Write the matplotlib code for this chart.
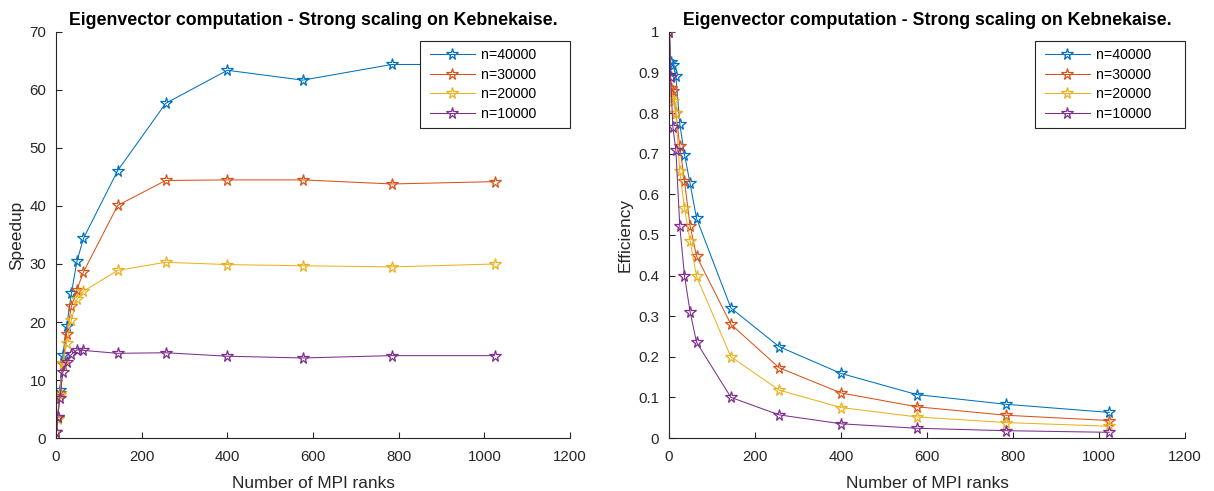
import matplotlib
matplotlib.use("Agg")
import matplotlib.pyplot as plt
from matplotlib.lines import Line2D
from matplotlib.legend_handler import HandlerLine2D

plt.rcParams['font.family'] = ['Liberation Sans', 'DejaVu Sans']

ranks = [1, 4, 9, 16, 25, 36, 49, 64, 144, 256, 400, 576, 784, 1024]
labels = ["n=40000", "n=30000", "n=20000", "n=10000"]
colors = ["#0072BD", "#D95319", "#EDB120", "#7E2F8E"]

speedup_40000 = [1, 3.7, 8.3, 14.3, 19.3, 25.0, 30.5, 34.4, 46.1, 57.7, 63.4, 61.7, 64.4, 64.4]
speedup_30000 = [1, 3.45, 7.7, 12.8, 18.0, 22.7, 25.6, 28.6, 40.1, 44.4, 44.5, 44.5, 43.8, 44.2]
speedup_20000 = [1, 3.35, 7.5, 12.9, 16.4, 20.4, 23.9, 25.3, 28.9, 30.3, 29.9, 29.7, 29.5, 30.0]
speedup_10000 = [1, 3.55, 6.9, 11.3, 13.1, 14.4, 15.2, 15.1, 14.6, 14.7, 14.1, 13.8, 14.2, 14.2]

eff_40000 = [1, 0.925, 0.919, 0.892, 0.774, 0.698, 0.627, 0.541, 0.320, 0.225, 0.159, 0.107, 0.083, 0.063]
eff_30000 = [1, 0.861, 0.855, 0.800, 0.720, 0.632, 0.523, 0.448, 0.280, 0.173, 0.111, 0.077, 0.056, 0.043]
eff_20000 = [1, 0.838, 0.830, 0.800, 0.657, 0.566, 0.485, 0.398, 0.200, 0.118, 0.075, 0.052, 0.038, 0.029]
eff_10000 = [1, 0.888, 0.766, 0.709, 0.523, 0.400, 0.311, 0.236, 0.100, 0.057, 0.035, 0.024, 0.018, 0.014]

speedups = [speedup_40000, speedup_30000, speedup_20000, speedup_10000]
effs = [eff_40000, eff_30000, eff_20000, eff_10000]

W, H = 1214, 491
fig = plt.figure(figsize=(W / 100, H / 100), dpi=100)

def axes_px(x0, y0, x1, y1):
    return fig.add_axes([x0 / W, 1 - y1 / H, (x1 - x0) / W, (y1 - y0) / H])

ax1 = axes_px(56, 32, 570, 438)
ax2 = axes_px(669, 32, 1185, 438)

title = "Eigenvector computation - Strong scaling on Kebnekaise."
txtc = "#262626"

for ax, data, ylab, ylim, yticks, ytl in [
    (ax1, speedups, "Speedup", (0, 70), list(range(0, 71, 10)), [str(v) for v in range(0, 71, 10)]),
    (ax2, effs, "Efficiency", (0, 1), [i / 10 for i in range(11)],
     ["0", "0.1", "0.2", "0.3", "0.4", "0.5", "0.6", "0.7", "0.8", "0.9", "1"]),
]:
    for vals, lab, c in zip(data, labels, colors):
        ax.plot(ranks, vals, color=c, lw=0.75, marker="*", ms=8.5, mfc="none",
                mec=c, mew=0.9, label=lab + "       ")
    ax.set_xlim(0, 1200)
    ax.set_ylim(*ylim)
    ax.set_xticks(range(0, 1201, 200))
    ax.set_yticks(yticks)
    ax.set_yticklabels(ytl)
    ax.spines['top'].set_visible(False)
    ax.spines['right'].set_visible(False)
    for s in ('left', 'bottom'):
        ax.spines[s].set_color(txtc)
        ax.spines[s].set_linewidth(0.8)
    ax.tick_params(direction="in", length=4, width=0.8, colors=txtc, labelsize=10.8)
    ax.tick_params(axis="x", pad=8.5)
    ax.tick_params(axis="y", pad=7)
    ax.set_xlabel("Number of MPI ranks", fontsize=12.4, color=txtc, labelpad=9)
    ax.set_ylabel(ylab, fontsize=12.4, color=txtc, labelpad=4)
    ax.set_title(title, fontsize=12.8, fontweight="bold", color="black", pad=5)
    leg = ax.legend(loc="upper right", bbox_to_anchor=(1.0, 1 - 9 / 406), frameon=True,
                    fancybox=False, edgecolor=txtc, framealpha=1.0, fontsize=10.2,
                    handlelength=3.44, borderpad=0.5, labelspacing=0.39,
                    handletextpad=0.36, borderaxespad=0.0,
                    handler_map={Line2D: HandlerLine2D(xpad=0.2)})
    leg.get_frame().set_linewidth(0.8)

fig.savefig("out.png", dpi=100)
